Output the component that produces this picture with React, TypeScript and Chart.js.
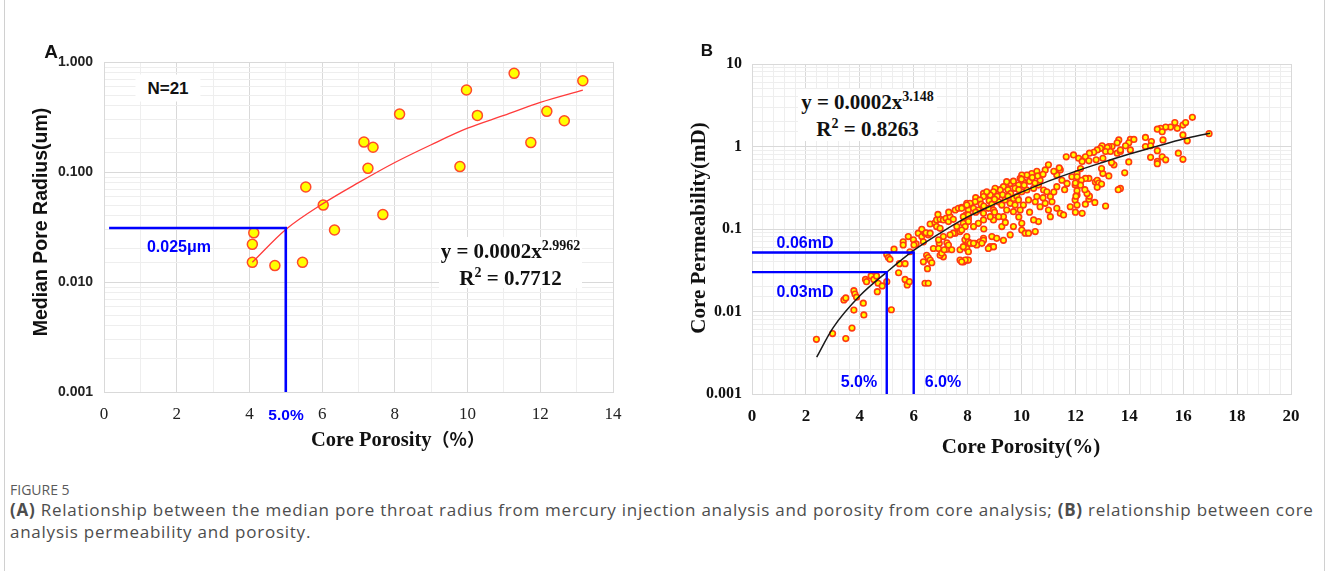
import React, { useEffect, useRef } from 'react';
import { Chart, registerables } from 'chart.js';

Chart.register(...registerables);

// ---------- Panel A data ----------
const porosityA = [4.12, 4.08, 4.08, 4.7, 5.46, 5.55, 6.03, 6.34, 7.15, 7.26, 7.4, 7.67, 8.13, 9.79, 9.97, 10.27, 11.28, 11.74, 12.18, 12.66, 13.17];
const radiusA = [0.028, 0.022, 0.0151, 0.0141, 0.0151, 0.073, 0.05, 0.0297, 0.187, 0.108, 0.168, 0.041, 0.336, 0.112, 0.556, 0.327, 0.789, 0.185, 0.356, 0.292, 0.676];
const trendPorosityA = [4.08, 5, 6, 7, 8, 9, 10, 11, 12, 13.17];
const trendRadiusA = [0.0151, 0.03, 0.051, 0.08, 0.122, 0.177, 0.25, 0.327, 0.43, 0.556];
const guidePorosityA = [0.14, 5, 5];
const guideRadiusA = [0.031, 0.031, 0.001];
const yTickLabelsA: Record<string, string> = { '-3': '0.001', '-2': '0.010', '-1': '0.100', '0': '1.000' };

// ---------- Panel B data ----------
const samplesB: [number, number][] = [
  [2.39, 0.0046], [2.99, 0.0054], [3.48, 0.0047], [3.71, 0.0063], [3.41, 0.0138], [3.48, 0.0146], [3.78, 0.0104], [3.78, 0.0179],
  [3.82, 0.0163], [3.88, 0.0149], [4.15, 0.0091], [4.13, 0.0126], [4.21, 0.0245], [4.25, 0.023], [4.42, 0.027], [4.52, 0.0245],
  [4.62, 0.027], [4.65, 0.0174], [4.68, 0.022], [4.83, 0.0204], [5.0, 0.023], [5.17, 0.0105], [5.0, 0.049], [5.06, 0.045],
  [5.12, 0.043], [5.27, 0.057], [5.47, 0.038], [5.44, 0.0295], [5.61, 0.07], [5.61, 0.064], [5.68, 0.038], [5.68, 0.0245],
  [5.76, 0.021], [5.84, 0.023], [5.8, 0.081], [5.86, 0.053], [5.99, 0.074], [6.09, 0.066], [6.17, 0.089], [6.3, 0.081],
  [6.36, 0.07], [6.42, 0.089], [6.54, 0.085], [6.48, 0.048], [6.54, 0.045], [6.61, 0.042], [6.67, 0.039], [6.42, 0.022],
  [6.54, 0.022], [6.51, 0.033], [6.95, 0.067], [7.1, 0.046], [7.23, 0.057], [7.41, 0.056], [7.54, 0.089], [7.72, 0.056],
  [7.85, 0.04], [7.97, 0.042], [8.03, 0.042], [7.9, 0.074], [7.97, 0.064], [8.16, 0.067], [8.28, 0.067], [8.46, 0.07],
  [8.59, 0.077], [8.84, 0.061], [8.96, 0.061],
  [6.01, 0.064], [6.3, 0.099], [6.46, 0.09], [6.61, 0.089], [6.61, 0.115], [6.79, 0.119], [6.85, 0.129], [6.98, 0.131],
  [7.1, 0.129], [7.2, 0.135], [7.29, 0.123], [7.35, 0.141], [7.47, 0.131], [7.54, 0.17], [7.66, 0.178], [7.78, 0.183],
  [7.91, 0.187], [7.97, 0.205], [8.03, 0.17], [7.94, 0.148], [8.03, 0.135], [7.84, 0.117], [7.6, 0.107], [7.72, 0.093],
  [7.47, 0.089], [7.35, 0.085], [7.1, 0.081], [6.92, 0.074], [7.23, 0.068], [7.29, 0.064], [7.97, 0.058], [8.03, 0.07],
  [6.73, 0.058], [6.92, 0.058], [6.98, 0.048], [7.04, 0.051], [7.72, 0.042], [7.13, 0.056], [6.85, 0.107], [6.98, 0.102],
  [6.36, 0.04],
  [8.59, 0.27], [9.21, 0.3], [8.09, 0.2], [6.9, 0.15], [7.3, 0.16], [8.3, 0.24], [8.8, 0.26],
  [11.66, 0.75], [11.93, 0.79], [11.0, 0.6], [10.88, 0.52], [11.44, 0.52], [11.31, 0.45], [10.57, 0.5], [10.38, 0.47],
  [10.2, 0.45], [10.01, 0.45], [9.95, 0.41], [10.07, 0.375], [9.89, 0.341], [9.76, 0.311], [9.58, 0.357], [9.45, 0.375],
  [9.33, 0.326], [9.21, 0.297], [9.02, 0.311], [8.96, 0.283], [8.84, 0.258], [8.71, 0.283], [8.59, 0.247], [8.46, 0.225],
  [8.28, 0.214], [8.09, 0.205], [7.97, 0.195], [7.78, 0.178], [7.84, 0.141], [8.03, 0.148], [8.22, 0.178], [8.4, 0.17],
  [8.59, 0.155], [8.77, 0.178], [8.96, 0.17], [9.15, 0.214], [9.27, 0.195], [9.39, 0.225], [9.58, 0.205], [9.7, 0.235],
  [9.83, 0.247], [10.01, 0.283], [10.2, 0.297], [10.45, 0.311], [10.63, 0.341], [10.69, 0.39], [10.82, 0.297], [10.94, 0.283],
  [11.07, 0.247], [11.13, 0.214], [11.31, 0.326], [11.5, 0.39], [11.69, 0.357], [11.87, 0.43], [11.99, 0.341], [12.06, 0.258],
  [11.99, 0.225], [11.81, 0.186], [11.44, 0.155], [11.56, 0.148], [11.0, 0.17], [10.88, 0.205], [10.69, 0.186], [10.51, 0.214],
  [10.57, 0.247], [10.26, 0.225], [10.07, 0.195], [9.95, 0.17], [9.76, 0.195], [9.7, 0.162], [9.45, 0.17], [9.33, 0.141],
  [9.15, 0.141], [8.96, 0.129], [8.84, 0.141], [8.59, 0.129], [8.4, 0.117], [8.22, 0.107], [8.03, 0.123], [7.91, 0.107],
  [7.78, 0.097], [7.97, 0.081], [8.09, 0.067], [7.84, 0.061], [8.03, 0.053], [7.91, 0.042], [7.78, 0.04], [8.34, 0.064],
  [8.59, 0.073], [8.9, 0.081], [9.08, 0.077], [9.33, 0.073], [9.58, 0.085], [9.7, 0.107], [10.01, 0.117], [10.01, 0.097],
  [10.14, 0.089], [10.26, 0.089], [10.51, 0.093], [10.63, 0.123], [11.07, 0.141], [11.31, 0.178], [10.45, 0.129], [9.89, 0.225],
  [9.27, 0.107], [8.96, 0.061], [8.77, 0.058], [8.53, 0.067], [8.22, 0.067],
  [9.1, 0.25], [9.3, 0.26], [9.5, 0.3], [9.6, 0.27], [9.9, 0.3], [10.1, 0.34], [10.3, 0.38], [10.4, 0.42],
  [10.6, 0.44], [10.8, 0.46], [11.2, 0.5], [11.4, 0.55], [8.5, 0.2], [8.6, 0.19], [8.8, 0.22], [8.9, 0.2],
  [9.0, 0.23], [9.7, 0.38], [10.0, 0.4], [10.5, 0.36], [9.5, 0.25], [8.3, 0.16], [8.6, 0.1], [9.0, 0.16],
  [9.4, 0.12], [9.9, 0.14], [10.3, 0.16], [10.8, 0.24], [11.2, 0.28], [11.6, 0.3],
  [16.34, 2.26], [15.69, 1.95], [15.99, 1.82], [16.09, 1.95], [15.78, 1.66], [15.53, 1.72], [15.35, 1.72], [15.16, 1.66],
  [15.04, 1.62], [15.22, 1.51], [15.25, 1.2], [15.99, 1.38], [16.15, 1.17], [16.96, 1.43], [14.6, 1.29], [14.82, 1.15],
  [14.6, 1.0], [14.79, 1.02], [15.04, 0.89], [15.82, 0.83], [14.79, 0.74], [15.22, 0.75], [15.35, 0.69], [15.99, 0.7],
  [15.04, 0.66], [15.04, 0.62], [14.04, 1.22], [14.17, 1.22], [13.98, 1.11], [14.04, 0.91], [13.86, 1.02], [13.61, 1.2],
  [13.55, 1.11], [13.36, 1.0], [13.24, 1.0], [13.18, 0.97], [12.99, 1.02], [12.93, 0.95], [12.81, 0.91], [12.68, 0.85],
  [13.12, 0.87], [13.3, 0.87], [13.55, 0.83], [13.67, 0.87], [13.67, 0.91], [13.98, 0.65], [13.43, 0.6], [13.24, 0.44],
  [13.83, 0.48], [13.67, 0.31], [13.59, 0.3], [13.12, 0.19], [12.72, 0.21], [12.37, 0.2], [12.25, 0.155], [12.0, 0.16],
  [12.5, 0.23], [12.52, 0.25], [12.43, 0.27], [12.74, 0.37], [12.81, 0.39], [12.87, 0.36], [12.97, 0.35], [12.81, 0.32],
  [13.02, 0.47], [12.97, 0.54], [12.77, 0.69], [13.02, 0.72], [13.34, 0.64], [12.5, 0.41], [12.37, 0.41], [12.22, 0.39],
  [12.19, 0.34], [12.35, 0.3], [12.52, 0.83], [12.12, 0.72], [12.37, 0.75], [12.25, 0.66], [12.19, 0.54], [12.5, 0.67],
  [12.06, 0.47], [12.06, 0.43], [12.0, 0.36], [12.06, 0.29], [12.02, 0.25], [12.06, 0.195]
];
const trendPorosityB = [2.4, 3, 4, 5, 6, 7, 8, 9, 10, 11, 12, 13, 14, 15, 16, 17];
const trendPermB = [0.0028, 0.0063, 0.0155, 0.03, 0.055, 0.09, 0.14, 0.2, 0.28, 0.38, 0.5, 0.64, 0.81, 1.0, 1.23, 1.45];
const guide6Porosity = [0, 6, 6];
const guide6Perm = [0.052, 0.052, 0.001];
const guide5Porosity = [0, 5, 5];
const guide5Perm = [0.03, 0.03, 0.001];
const yTickLabelsB: Record<string, string> = { '-3': '0.001', '-2': '0.01', '-1': '0.1', '0': '1', '1': '10' };

const MAJOR = '#d9d9d9';
const MINOR = '#eeeeee';
const BLUE = '#0000ff';

const zip = (xs: number[], ys: number[]) => xs.map((x, i) => ({ x, y: ys[i] }));
const decadeOf = (v: number) => {
  const l = Math.log10(v);
  const r = Math.round(l);
  return Math.abs(l - r) < 1e-6 ? r : null;
};

function ChartCanvas({ config, left, top, width, height }: any) {
  const ref = useRef<HTMLCanvasElement>(null);
  useEffect(() => {
    const chart = new Chart(ref.current as HTMLCanvasElement, config);
    return () => chart.destroy();
  }, []);
  return (
    <canvas
      ref={ref}
      width={width}
      height={height}
      style={{ position: 'absolute', left, top, width, height }}
    />
  );
}

const configA: any = {
  type: 'scatter',
  data: {
    datasets: [
      { data: zip(guidePorosityA, guideRadiusA), showLine: true, borderColor: BLUE, borderWidth: 2.6, pointRadius: 0, tension: 0 },
      { data: zip(trendPorosityA, trendRadiusA), showLine: true, borderColor: '#ff3b3b', borderWidth: 1.3, pointRadius: 0, cubicInterpolationMode: 'monotone' },
      { data: zip(porosityA, radiusA), pointRadius: 5, pointBackgroundColor: '#ffff00', pointBorderColor: '#ff4a2a', pointBorderWidth: 1.5 },
    ],
  },
  options: {
    responsive: false,
    animation: false,
    devicePixelRatio: 1,
    layout: { padding: { left: 54, top: 62, right: 37, bottom: 38 } },
    plugins: { legend: { display: false }, tooltip: { enabled: false } },
    scales: {
      x: {
        type: 'linear', min: 0, max: 14,
        afterFit: (s: any) => { s.height = 40; },
        ticks: {
          stepSize: 1, autoSkip: false, maxRotation: 0, padding: 12, color: '#222',
          font: { family: 'Liberation Serif', size: 17 },
          callback: (v: any) => (Math.round(v) % 2 === 0 ? String(v) : ''),
        },
        grid: { drawTicks: false, color: (c: any) => (c.tick && Math.round(c.tick.value) % 2 === 0 ? MAJOR : MINOR) },
        border: { color: MAJOR },
      },
      y: {
        type: 'logarithmic', min: 0.001, max: 1,
        afterFit: (s: any) => { s.width = 50; },
        ticks: {
          autoSkip: false, padding: 11, color: '#222',
          font: { family: 'Liberation Sans', size: 14, weight: 'bold' },
          callback: (v: any) => { const d = decadeOf(Number(v)); return d === null ? '' : yTickLabelsA[String(d)]; },
        },
        grid: { drawTicks: false, color: (c: any) => (c.tick && decadeOf(c.tick.value) !== null ? MAJOR : MINOR) },
        border: { color: MAJOR },
      },
    },
  },
};

const configB: any = {
  type: 'scatter',
  data: {
    datasets: [
      { data: zip(guide6Porosity, guide6Perm), showLine: true, borderColor: BLUE, borderWidth: 2.4, pointRadius: 0, tension: 0 },
      { data: zip(guide5Porosity, guide5Perm), showLine: true, borderColor: BLUE, borderWidth: 2.4, pointRadius: 0, tension: 0 },
      { data: zip(trendPorosityB, trendPermB), showLine: true, borderColor: '#1a1a1a', borderWidth: 1.5, pointRadius: 0, cubicInterpolationMode: 'monotone' },
      { data: samplesB.map(([x, y]) => ({ x, y })), pointRadius: 2.8, pointBackgroundColor: '#ffff00', pointBorderColor: '#ff3a10', pointBorderWidth: 1.6 },
    ],
  },
  options: {
    responsive: false,
    animation: false,
    devicePixelRatio: 1,
    layout: { padding: { left: 42, top: 64, right: 37, bottom: 36 } },
    plugins: { legend: { display: false }, tooltip: { enabled: false } },
    scales: {
      x: {
        type: 'linear', min: 0, max: 20,
        afterFit: (s: any) => { s.height = 40; },
        ticks: {
          stepSize: 0.4, autoSkip: false, maxRotation: 0, padding: 12, color: '#111',
          font: { family: 'Liberation Serif', size: 17, weight: 'bold' },
          callback: (v: any) => { const n = Number(v) / 2; return Math.abs(n - Math.round(n)) < 1e-6 ? String(Math.round(Number(v))) : ''; },
        },
        grid: {
          drawTicks: false,
          color: (c: any) => { if (!c.tick) return MINOR; const n = c.tick.value / 2; return Math.abs(n - Math.round(n)) < 1e-6 ? MAJOR : MINOR; },
        },
        border: { color: MAJOR },
      },
      y: {
        type: 'logarithmic', min: 0.001, max: 10,
        afterFit: (s: any) => { s.width = 50; },
        ticks: {
          autoSkip: false, padding: 10, color: '#111',
          font: { family: 'Liberation Serif', size: 16, weight: 'bold' },
          callback: (v: any) => { const d = decadeOf(Number(v)); return d === null ? '' : yTickLabelsB[String(d)]; },
        },
        grid: { drawTicks: false, color: (c: any) => (c.tick && decadeOf(c.tick.value) !== null ? MAJOR : MINOR) },
        border: { color: MAJOR },
      },
    },
  },
};

function Label({ x, y, rotate, style, children }: any) {
  return (
    <div
      style={{
        position: 'absolute', left: x, top: y, whiteSpace: 'nowrap', lineHeight: 1,
        transform: `translate(-50%, -50%)${rotate ? ` rotate(${rotate}deg)` : ''}`,
        ...style,
      }}
    >
      {children}
    </div>
  );
}

const sup: React.CSSProperties = { fontSize: 14, position: 'relative', top: -8 };
const sansBold = { fontFamily: 'Liberation Sans, Arial, sans-serif', fontWeight: 700 };
const serifBold = { fontFamily: 'Liberation Serif, "Times New Roman", serif', fontWeight: 700 };

export default function App() {
  return (
    <div style={{ position: 'absolute', left: 0, top: 0, width: 1328, height: 571, background: '#fff', overflow: 'hidden' }}>
      <div style={{ position: 'absolute', left: 4, top: -20, width: 1321, height: 640, border: '1px solid #d0d0d0', boxSizing: 'border-box' }} />
      <ChartCanvas config={configA} left={0} top={0} width={650} height={470} />
      <ChartCanvas config={configB} left={660} top={0} width={668} height={470} />

      {/* Panel A texts */}
      <Label x={51} y={51} style={{ ...sansBold, fontSize: 19, color: '#111' }}>A</Label>
      <Label x={41} y={222} rotate={-90} style={{ ...sansBold, fontSize: 19.5, color: '#111' }}>Median Pore Radius(um)</Label>
      <Label x={398} y={439} style={{ ...serifBold, fontSize: 20.5, color: '#111' }}>
        Core Porosity<span style={{ fontFamily: '"Noto Sans CJK SC", sans-serif', fontWeight: 700, fontSize: 18 }}>（%）</span>
      </Label>
      <Label x={168} y={88} style={{ ...sansBold, fontSize: 17, color: '#111', background: '#fff', padding: '5px 12px' }}>N=21</Label>
      <Label x={179} y={247} style={{ ...sansBold, fontSize: 16, color: BLUE }}>0.025μm</Label>
      <Label x={286} y={415} style={{ ...sansBold, fontSize: 15.5, color: BLUE }}>5.0%</Label>
      <div style={{ position: 'absolute', left: 439, top: 237, width: 143, height: 51, background: '#fff', ...serifBold, fontSize: 21, color: '#111', textAlign: 'center', lineHeight: '24px', paddingTop: 2, boxSizing: 'border-box' }}>
        <div>y = 0.0002x<span style={sup}>2.9962</span></div>
        <div>R<span style={sup}>2</span> = 0.7712</div>
      </div>

      {/* Panel B texts */}
      <Label x={707} y={50} style={{ ...sansBold, fontSize: 17, color: '#111' }}>B</Label>
      <Label x={698} y={228} rotate={-90} style={{ ...serifBold, fontSize: 21, color: '#111' }}>Core Permeability(mD)</Label>
      <Label x={1021} y={446} style={{ ...serifBold, fontSize: 21, color: '#111' }}>Core Porosity(%)</Label>
      <div style={{ position: 'absolute', left: 798, top: 89, width: 139, height: 52, background: '#fff', ...serifBold, fontSize: 21, color: '#111', textAlign: 'center', lineHeight: '25px', paddingTop: 1, boxSizing: 'border-box' }}>
        <div>y = 0.0002x<span style={sup}>3.148</span></div>
        <div>R<span style={sup}>2</span> = 0.8263</div>
      </div>
      <Label x={805} y={243} style={{ ...sansBold, fontSize: 16, color: BLUE }}>0.06mD</Label>
      <Label x={805} y={292} style={{ ...sansBold, fontSize: 16, color: BLUE }}>0.03mD</Label>
      <Label x={859} y={382} style={{ ...sansBold, fontSize: 16, color: BLUE }}>5.0%</Label>
      <Label x={943} y={382} style={{ ...sansBold, fontSize: 16, color: BLUE }}>6.0%</Label>

      {/* Caption */}
      <div style={{ position: 'absolute', left: 10, top: 482, fontFamily: '"Open Sans", sans-serif', fontSize: 14, color: '#5a5a5a', lineHeight: '16px' }}>FIGURE 5</div>
      <div style={{ position: 'absolute', left: 10, top: 499, fontFamily: '"Open Sans", sans-serif', fontSize: 17, letterSpacing: 0.75, color: '#4d4d4d', lineHeight: '22px', whiteSpace: 'nowrap' }}>
        <b>(A)</b> Relationship between the median pore throat radius from mercury injection analysis and porosity from core analysis; <b>(B)</b> relationship between core
        <br />
        analysis permeability and porosity.
      </div>
    </div>
  );
}
